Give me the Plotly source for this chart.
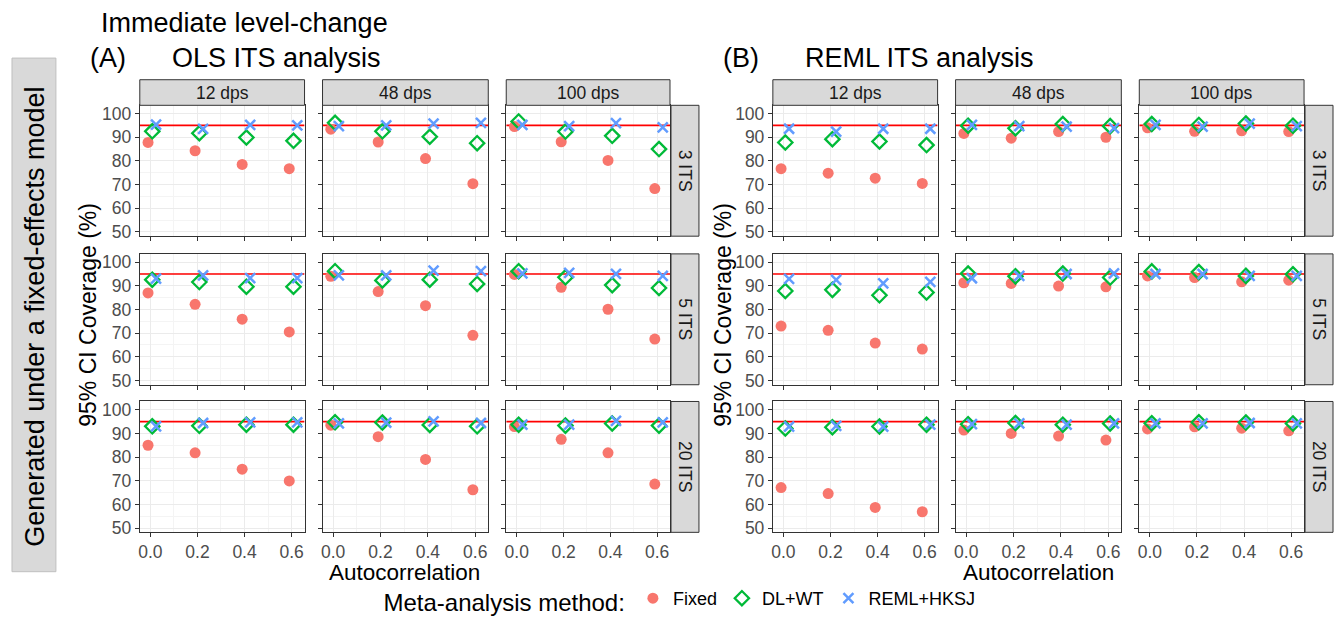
import plotly.graph_objects as go

W, H = 1336, 622

autocorr = [0.0, 0.2, 0.4, 0.6]
dps_labels = ["12 dps", "48 dps", "100 dps"]
its_labels = ["3 ITS", "5 ITS", "20 ITS"]
methods = ["Fixed", "DL+WT", "REML+HKSJ"]

# ---- OLS ITS analysis: rows = 3/5/20 ITS, inner lists = 12/48/100 dps over autocorrelation
ols_fixed = [
    [[87.8, 84.3, 78.5, 76.7], [93.4, 88.0, 81.0, 70.4], [94.5, 88.1, 80.2, 68.3]],
    [[87.0, 82.2, 75.9, 70.5], [94.0, 87.6, 81.6, 69.1], [94.8, 89.4, 80.1, 67.5]],
    [[85.0, 81.8, 74.9, 69.9], [93.5, 88.6, 79.0, 66.2], [92.9, 87.5, 81.8, 68.6]],
]
ols_dlwt = [
    [[92.5, 91.7, 89.9, 88.5], [96.1, 92.5, 90.2, 87.5], [96.7, 92.4, 90.6, 85.0]],
    [[92.6, 91.6, 89.6, 89.6], [96.2, 92.3, 92.6, 90.8], [96.2, 93.6, 90.3, 89.1]],
    [[93.0, 93.2, 93.7, 93.7], [94.7, 94.6, 93.6, 93.0], [93.7, 93.3, 94.2, 93.3]],
]
ols_reml = [
    [[95.3, 93.5, 95.2, 95.0], [94.7, 95.0, 95.8, 96.1], [95.2, 94.7, 96.0, 94.2]],
    [[93.0, 94.4, 93.3, 93.3], [94.4, 94.4, 96.4, 96.2], [95.3, 95.5, 95.1, 94.2]],
    [[93.0, 94.4, 94.7, 94.7], [94.2, 94.6, 95.1, 94.4], [93.7, 93.7, 95.3, 94.7]],
]

# ---- REML ITS analysis
reml_fixed = [
    [[76.7, 74.8, 72.7, 70.5], [91.6, 89.6, 92.4, 90.0], [94.0, 92.5, 92.7, 92.4]],
    [[73.0, 71.2, 65.8, 63.3], [91.3, 91.0, 89.9, 89.6], [94.2, 93.5, 91.7, 92.4]],
    [[67.1, 64.6, 58.7, 56.9], [91.4, 90.0, 88.9, 87.2], [91.9, 92.8, 92.2, 91.1]],
]
reml_dlwt = [
    [[87.8, 89.2, 88.2, 86.7], [94.9, 93.8, 95.6, 94.7], [95.6, 95.2, 95.8, 94.9]],
    [[87.8, 88.3, 86.0, 87.2], [95.2, 94.0, 95.2, 93.5], [96.1, 95.8, 94.2, 94.9]],
    [[92.1, 92.6, 92.9, 93.7], [93.9, 94.4, 93.7, 94.2], [94.3, 94.7, 94.6, 94.2]],
]
reml_reml = [
    [[93.6, 92.4, 93.6, 93.6], [95.2, 94.7, 94.5, 93.9], [95.2, 94.5, 95.8, 94.7]],
    [[92.9, 92.5, 91.0, 91.7], [93.2, 94.2, 95.0, 95.3], [95.0, 95.0, 94.2, 94.2]],
    [[92.9, 93.2, 92.9, 93.7], [93.9, 94.2, 93.7, 94.2], [94.2, 94.2, 94.4, 94.2]],
]

target_coverage = 95

panels = [
    {"label": "(A)", "title": "OLS ITS analysis",
     "data": [ols_fixed, ols_dlwt, ols_reml]},
    {"label": "(B)", "title": "REML ITS analysis",
     "data": [reml_fixed, reml_dlwt, reml_reml]},
]

# ---- styling
FONT = "Liberation Sans, Arial, sans-serif"
colors = ["#F8766D", "#00BA38", "#619CFF"]
dodge = [-0.010, 0.008, 0.024]
markers = [
    dict(symbol="circle", size=11, color=colors[0], line=dict(width=0)),
    dict(symbol="diamond-open", size=11, color=colors[1], line=dict(width=2.3, color=colors[1])),
    dict(symbol="x-thin-open", size=10, color=colors[2], line=dict(width=2.5, color=colors[2])),
]
X_RANGE = [-0.045, 0.655]
Y_RANGE = [48.2, 103.5]

panel_cols_px = [
    [(138, 303), (321, 487), (505, 669)],
    [(772, 937), (955, 1121), (1139, 1304)],
]
row_strip_px = [(670, 698), (1305, 1333)]
rows_px = [(105, 238), (256, 389), (406, 539)]
col_strip_px = (79, 105)
TICK = 17.5
STRIP = 17.5
TITLE = 27


def px_x(v):
    return v / W


def px_y(v):
    return 1 - v / H


fig = go.Figure()
layout = {}
shapes = []
annotations = []

for p, panel in enumerate(panels):
    for r in range(3):
        for c in range(3):
            idx = p * 9 + r * 3 + c + 1
            xa = "xaxis" if idx == 1 else f"xaxis{idx}"
            ya = "yaxis" if idx == 1 else f"yaxis{idx}"
            xr = "x" if idx == 1 else f"x{idx}"
            yr = "y" if idx == 1 else f"y{idx}"
            x0, x1 = panel_cols_px[p][c]
            y0, y1 = rows_px[r]
            layout[xa] = dict(
                domain=[px_x(x0), px_x(x1)], anchor=yr,
                range=X_RANGE, tick0=0, dtick=0.2, tickformat=".1f",
                showticklabels=(r == 2), ticks="outside", ticklen=4,
                tickcolor="#333333", tickfont=dict(size=TICK, color="#4d4d4d", family=FONT),
                showgrid=True, gridcolor="#ebebeb", gridwidth=1,
                minor=dict(dtick=0.1, tick0=0, showgrid=True, gridcolor="#f4f4f4", gridwidth=0.6),
                showline=True, mirror=True, linecolor="#333333", linewidth=1,
                zeroline=False, fixedrange=True,
            )
            layout[ya] = dict(
                domain=[px_y(y1), px_y(y0)], anchor=xr,
                range=Y_RANGE, tick0=50, dtick=10,
                showticklabels=(c == 0), ticks="outside", ticklen=4,
                tickcolor="#333333", tickfont=dict(size=TICK, color="#4d4d4d", family=FONT),
                showgrid=True, gridcolor="#ebebeb", gridwidth=1,
                minor=dict(dtick=5, tick0=50, showgrid=True, gridcolor="#f4f4f4", gridwidth=0.6),
                showline=True, mirror=True, linecolor="#333333", linewidth=1,
                zeroline=False, fixedrange=True,
            )
            # target coverage reference line (drawn under the markers)
            fig.add_trace(go.Scatter(
                x=X_RANGE, y=[target_coverage, target_coverage], mode="lines",
                line=dict(color="#ff0000", width=1.6), showlegend=False,
                hoverinfo="skip", xaxis=xr, yaxis=yr,
            ))
            for m in range(3):
                vals = panel["data"][m][r][c]
                fig.add_trace(go.Scatter(
                    x=[a + dodge[m] for a in autocorr], y=vals,
                    mode="markers", marker=markers[m], name=methods[m],
                    legendgroup=methods[m], showlegend=(idx == 1),
                    xaxis=xr, yaxis=yr, cliponaxis=False,
                ))
    # column strips
    for c in range(3):
        x0, x1 = panel_cols_px[p][c]
        shapes.append(dict(type="rect", xref="paper", yref="paper",
                           x0=px_x(x0), x1=px_x(x1),
                           y0=px_y(col_strip_px[1]), y1=px_y(col_strip_px[0]),
                           fillcolor="#d9d9d9", line=dict(color="#333333", width=1)))
        annotations.append(dict(text=dps_labels[c], xref="paper", yref="paper",
                                x=px_x((x0 + x1) / 2), y=px_y((col_strip_px[0] + col_strip_px[1]) / 2),
                                showarrow=False, font=dict(size=STRIP, color="#1a1a1a", family=FONT),
                                xanchor="center", yanchor="middle"))
    # row strips
    sx0, sx1 = row_strip_px[p]
    for r in range(3):
        y0, y1 = rows_px[r]
        shapes.append(dict(type="rect", xref="paper", yref="paper",
                           x0=px_x(sx0), x1=px_x(sx1), y0=px_y(y1), y1=px_y(y0),
                           fillcolor="#d9d9d9", line=dict(color="#333333", width=1)))
        annotations.append(dict(text=its_labels[r], xref="paper", yref="paper",
                                x=px_x((sx0 + sx1) / 2), y=px_y((y0 + y1) / 2),
                                showarrow=False, textangle=90,
                                font=dict(size=STRIP, color="#1a1a1a", family=FONT),
                                xanchor="center", yanchor="middle"))
    # axis titles
    xc = (panel_cols_px[p][0][0] + panel_cols_px[p][2][1]) / 2
    annotations.append(dict(text="Autocorrelation", xref="paper", yref="paper",
                            x=px_x(xc), y=px_y(580), showarrow=False,
                            font=dict(size=22.5, color="#000000", family=FONT),
                            xanchor="center", yanchor="middle"))
    annotations.append(dict(text="95% CI Coverage (%)", xref="paper", yref="paper",
                            x=px_x([86, 722][p]), y=px_y(318), showarrow=False,
                            textangle=-90, font=dict(size=23, color="#000000", family=FONT),
                            xanchor="center", yanchor="middle"))
    # panel labels
    lx = [86, 720][p]
    tx = [168, 802][p]
    annotations.append(dict(text=panel["label"], xref="paper", yref="paper",
                            x=px_x(lx), y=px_y(57), showarrow=False, xanchor="left",
                            yanchor="middle", font=dict(size=TITLE, color="#000000", family=FONT)))
    annotations.append(dict(text=panel["title"], xref="paper", yref="paper",
                            x=px_x(tx), y=px_y(57), showarrow=False, xanchor="left",
                            yanchor="middle", font=dict(size=TITLE, color="#000000", family=FONT)))

annotations.append(dict(text="Immediate level-change", xref="paper", yref="paper",
                        x=px_x(97), y=px_y(21), showarrow=False, xanchor="left",
                        yanchor="middle", font=dict(size=TITLE, color="#000000", family=FONT)))

# left grey strip
shapes.append(dict(type="rect", xref="paper", yref="paper",
                   x0=px_x(10), x1=px_x(54), y0=px_y(579), y1=px_y(57),
                   fillcolor="#d9d9d9", line=dict(color="#bfbfbf", width=1)))
annotations.append(dict(text="Generated under a fixed-effects model", xref="paper", yref="paper",
                        x=px_x(33), y=px_y(320), showarrow=False, textangle=-90,
                        font=dict(size=27, color="#000000", family=FONT),
                        xanchor="center", yanchor="middle"))

fig.update_layout(
    width=W, height=H,
    margin=dict(l=0, r=0, t=0, b=0),
    paper_bgcolor="white", plot_bgcolor="white",
    font=dict(family=FONT),
    shapes=shapes, annotations=annotations,
    showlegend=True,
    legend=dict(orientation="h", x=px_x(380), xanchor="left", y=px_y(609), yanchor="middle",
                title=dict(text="Meta-analysis method:", font=dict(size=24, color="#000000", family=FONT)),
                font=dict(size=18, color="#000000", family=FONT),
                bgcolor="rgba(0,0,0,0)", itemwidth=30, tracegroupgap=0),
    **layout,
)

fig.write_html("out.html")
